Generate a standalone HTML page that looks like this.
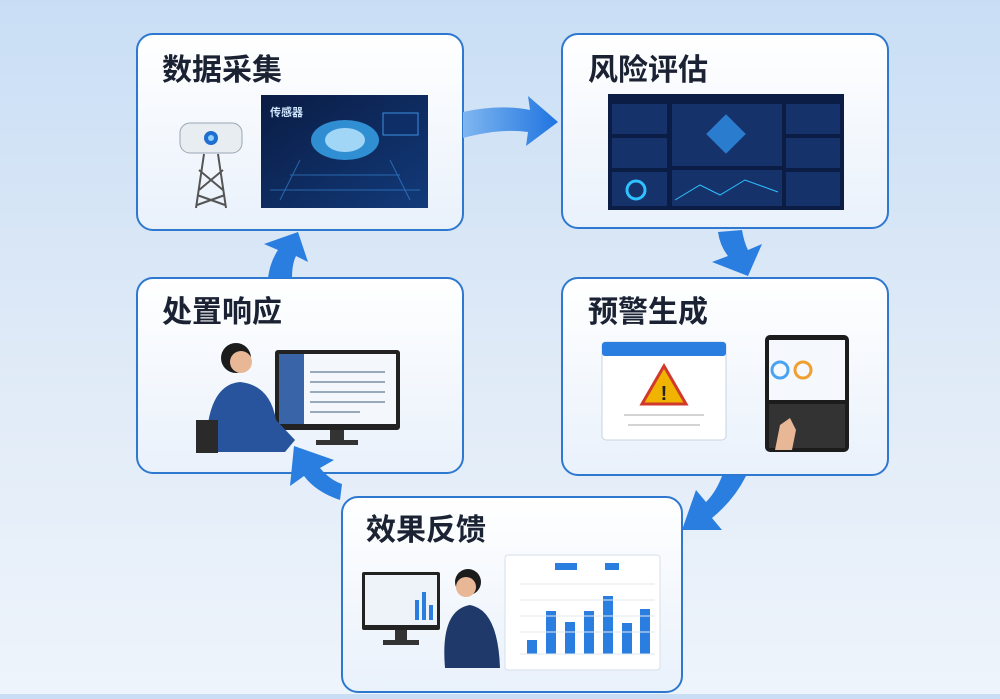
<!DOCTYPE html>
<html><head><meta charset="utf-8"><style>
html,body{margin:0;padding:0}
body{width:1000px;height:694px;overflow:hidden;background:linear-gradient(#c9def5 0%,#dfeaf7 50%,#eef4fb 100%);font-family:"Liberation Sans","Noto Sans CJK SC",sans-serif}
</style></head><body>
<svg width="1000" height="694" viewBox="0 0 1000 694" xmlns="http://www.w3.org/2000/svg">
<defs>
<linearGradient id="bx" x1="0" y1="0" x2="0" y2="1"><stop offset="0" stop-color="#ffffff"/><stop offset="1" stop-color="#e9f1fb"/></linearGradient>
<linearGradient id="ar" x1="0" y1="0" x2="1" y2="0"><stop offset="0" stop-color="#7fb6f0"/><stop offset="1" stop-color="#1f74e0"/></linearGradient>
<linearGradient id="dk" x1="0" y1="0" x2="1" y2="1"><stop offset="0" stop-color="#0a1c44"/><stop offset="1" stop-color="#123a7a"/></linearGradient>
</defs>
<g stroke="#2f78d0" stroke-width="2" fill="url(#bx)">
<rect x="137" y="34" width="326" height="196" rx="16"/>
<rect x="562" y="34" width="326" height="194" rx="16"/>
<rect x="137" y="278" width="326" height="195" rx="16"/>
<rect x="562" y="278" width="326" height="197" rx="16"/>
<rect x="342" y="497" width="340" height="195" rx="16"/>
</g>
<g font-size="30" font-weight="bold" fill="#1a2233">
<text x="162" y="80">数据采集</text>
<text x="588" y="80">风险评估</text>
<text x="162" y="322">处置响应</text>
<text x="588" y="322">预警生成</text>
<text x="366" y="540">效果反馈</text>
</g>
<!-- arrows -->
<g fill="url(#ar)">
<path d="M463 112 Q500 104 530 110 L528 96 L558 122 L526 146 L528 132 Q500 128 463 138 Z"/>
</g>
<g fill="#2a7ee0">
<path d="M718 232 L742 230 Q744 242 748 250 L762 244 L748 276 L712 262 L728 256 Q720 246 718 232 Z"/>
<path d="M746 476 L722 476 Q716 492 706 502 L696 490 L682 530 L722 530 L712 518 Q734 500 746 476 Z"/>
<path d="M340 500 Q316 492 304 476 L290 486 L294 446 L334 460 L320 468 Q330 480 342 484 Z"/>
<path d="M268 278 L292 278 Q292 264 296 256 L308 262 L298 232 L264 244 L278 250 Q270 262 268 278 Z"/>
</g>
<!-- box1 device -->
<rect x="180" y="123" width="62" height="30" rx="10" fill="#e8edf2" stroke="#9aa6b4"/>
<circle cx="211" cy="138" r="7" fill="#1e6fd0"/><circle cx="211" cy="138" r="3" fill="#8fd0ff"/>
<g stroke="#555" stroke-width="2" fill="none"><path d="M204 154 L196 208 M218 154 L226 208 M199 170 L223 190 M223 170 L199 190 M197 195 L225 205 M225 195 L197 205"/></g>
<rect x="261" y="95" width="167" height="113" fill="url(#dk)"/>
<ellipse cx="345" cy="140" rx="34" ry="20" fill="#3aa8f0" opacity=".8"/>
<ellipse cx="345" cy="140" rx="20" ry="12" fill="#bfe8ff" opacity=".8"/>
<g stroke="#3b8fe0" stroke-width="1" opacity=".6"><path d="M270 190 L420 190 M290 175 L400 175 M300 160 L280 200 M390 160 L410 200"/></g>
<text x="270" y="116" font-size="11" fill="#cfe6ff" font-weight="bold">传感器</text>
<rect x="383" y="113" width="35" height="22" fill="#0d2e66" stroke="#3b8fe0"/>
<!-- box2 dashboard -->
<rect x="608" y="94" width="236" height="116" fill="#0b1d45"/>
<g fill="#16326a"><rect x="612" y="104" width="55" height="30"/><rect x="612" y="138" width="55" height="30"/><rect x="612" y="172" width="55" height="34"/><rect x="672" y="104" width="110" height="62"/><rect x="672" y="170" width="110" height="36"/><rect x="786" y="104" width="54" height="30"/><rect x="786" y="138" width="54" height="30"/><rect x="786" y="172" width="54" height="34"/></g>
<rect x="712" y="120" width="28" height="28" fill="#2f8fe8" transform="rotate(45 726 134)" opacity=".8"/>
<circle cx="636" cy="190" r="9" fill="none" stroke="#2fc0ff" stroke-width="3"/>
<path d="M675 200 L700 185 L720 195 L745 180 L778 192" stroke="#2fc0ff" fill="none"/>
<!-- box3 -->
<rect x="275" y="350" width="125" height="80" rx="3" fill="#222"/>
<rect x="279" y="354" width="117" height="70" fill="#f4f7fb"/>
<rect x="279" y="354" width="25" height="70" fill="#3a64a8"/>
<g stroke="#9ab" stroke-width="2"><path d="M310 372 L385 372 M310 382 L385 382 M310 392 L385 392 M310 402 L385 402 M310 412 L360 412"/></g>
<rect x="330" y="430" width="14" height="10" fill="#333"/><rect x="316" y="440" width="42" height="5" fill="#333"/>
<circle cx="236" cy="358" r="15" fill="#1c1c1c"/><circle cx="241" cy="362" r="11" fill="#e8b796"/>
<path d="M206 452 Q206 385 240 382 Q270 385 276 420 L295 440 L285 452 Z" fill="#27549c"/>
<rect x="196" y="420" width="22" height="33" fill="#2a2a2a"/>
<!-- box4 -->
<rect x="602" y="342" width="124" height="98" rx="4" fill="#fff" stroke="#c7d3e0"/>
<rect x="602" y="342" width="124" height="14" rx="3" fill="#2a7ee0"/>
<path d="M664 366 L686 404 L642 404 Z" fill="#f0b400" stroke="#d0392b" stroke-width="3"/>
<text x="664" y="400" font-size="20" font-weight="bold" text-anchor="middle" fill="#222">!</text>
<g stroke="#aaa"><path d="M624 415 L704 415 M628 425 L700 425"/></g>
<rect x="765" y="335" width="84" height="117" rx="5" fill="#1c1c1c"/>
<rect x="769" y="340" width="76" height="60" fill="#f5f8fc"/>
<circle cx="780" cy="370" r="8" fill="none" stroke="#4aa3f0" stroke-width="3"/><circle cx="803" cy="370" r="8" fill="none" stroke="#f0a030" stroke-width="3"/>
<rect x="769" y="404" width="76" height="44" fill="#333"/>
<path d="M775 450 L780 425 L790 418 L796 430 L792 450 Z" fill="#e8b796"/>
<!-- box5 -->
<rect x="362" y="572" width="78" height="58" rx="2" fill="#222"/>
<rect x="365" y="575" width="72" height="50" fill="#eef3fa"/>
<g fill="#2a7ee0"><rect x="415" y="600" width="4" height="20"/><rect x="422" y="592" width="4" height="28"/><rect x="429" y="605" width="4" height="15"/></g>
<rect x="395" y="630" width="12" height="10" fill="#333"/><rect x="383" y="640" width="36" height="5" fill="#333"/>
<circle cx="468" cy="582" r="13" fill="#1c1c1c"/><circle cx="466" cy="587" r="10" fill="#e8b796"/>
<path d="M445 668 Q440 610 470 605 Q498 610 500 668 Z" fill="#1f3a6a"/>
<rect x="505" y="555" width="155" height="115" rx="3" fill="#fff" stroke="#d6dfe9"/>
<g fill="#2a7ee0"><rect x="527" y="640" width="10" height="14"/><rect x="546" y="611" width="10" height="43"/><rect x="565" y="622" width="10" height="32"/><rect x="584" y="611" width="10" height="43"/><rect x="603" y="596" width="10" height="58"/><rect x="622" y="623" width="10" height="31"/><rect x="640" y="609" width="10" height="45"/><rect x="555" y="563" width="22" height="7"/><rect x="605" y="563" width="14" height="7"/></g>
<g stroke="#e3e8ef"><path d="M520 584 L655 584 M520 600 L655 600 M520 616 L655 616 M520 632 L655 632 M520 654 L655 654"/></g>
</svg>
</body></html>
